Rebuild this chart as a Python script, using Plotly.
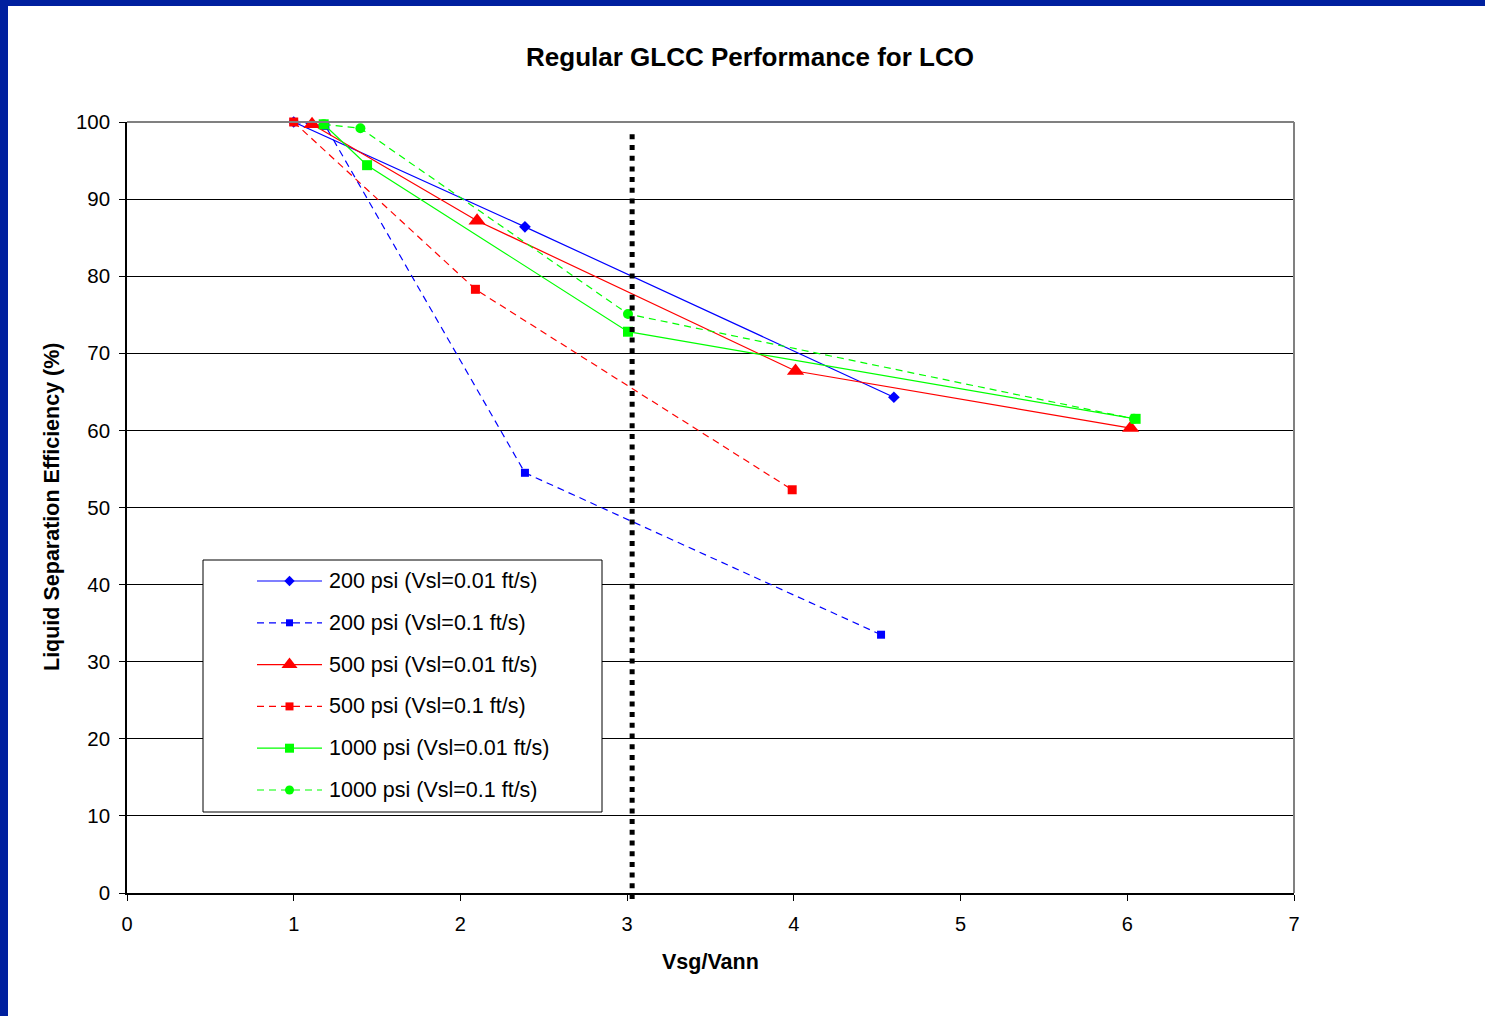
import plotly.graph_objects as go

# Liquid separation efficiency vs. Vsg/Vann for each pressure / liquid velocity case
x_200_lo = [1.0, 2.387, 4.60]
y_200_lo = [100.0, 86.4, 64.3]

x_200_hi = [1.0, 1.19, 2.387, 4.523]
y_200_hi = [100.0, 99.5, 54.5, 33.5]

x_500_lo = [1.11, 2.10, 4.01, 6.02]
y_500_lo = [99.7, 87.2, 67.7, 60.3]

x_500_hi = [1.0, 2.09, 3.99]
y_500_hi = [100.0, 78.3, 52.3]

x_1000_lo = [1.18, 1.44, 3.005, 6.05]
y_1000_lo = [99.7, 94.4, 72.8, 61.5]

x_1000_hi = [1.18, 1.40, 3.005, 6.04]
y_1000_hi = [99.7, 99.2, 75.1, 61.5]

series_names = [
    "200 psi (Vsl=0.01 ft/s)",
    "200 psi (Vsl=0.1 ft/s)",
    "500 psi (Vsl=0.01 ft/s)",
    "500 psi (Vsl=0.1 ft/s)",
    "1000 psi (Vsl=0.01 ft/s)",
    "1000 psi (Vsl=0.1 ft/s)",
]

limit_x = 3.03  # vertical reference line on Vsg/Vann

x_ticks = [0, 1, 2, 3, 4, 5, 6, 7]
y_ticks = [0, 10, 20, 30, 40, 50, 60, 70, 80, 90, 100]

FONT = "Arial, Liberation Sans, sans-serif"
W, H = 1485, 1016
L, R, T, B = 127, 191, 122, 123
pw = W - L - R
ph = H - T - B


def px_to_paper(px, py):
    """Page pixel position -> paper coordinates of the plot area."""
    return (px - L) / pw, (H - B - py) / ph


styles = [
    dict(color="#0000FF", dash="solid", symbol="diamond", size=9),
    dict(color="#0000FF", dash="7px,5px", symbol="square", size=8),
    dict(color="#FF0000", dash="solid", symbol="triangle-up", size=15),
    dict(color="#FF0000", dash="7px,5px", symbol="square", size=9),
    dict(color="#00FF00", dash="solid", symbol="square", size=10),
    dict(color="#00FF00", dash="7px,5px", symbol="circle", size=10),
]
data = [
    (x_200_lo, y_200_lo),
    (x_200_hi, y_200_hi),
    (x_500_lo, y_500_lo),
    (x_500_hi, y_500_hi),
    (x_1000_lo, y_1000_lo),
    (x_1000_hi, y_1000_hi),
]

fig = go.Figure()
for (xs, ys), st, name in zip(data, styles, series_names):
    fig.add_trace(go.Scatter(
        x=xs, y=ys, name=name, mode="lines+markers", showlegend=False,
        line=dict(color=st["color"], width=1.2, dash=st["dash"]),
        marker=dict(color=st["color"], symbol=st["symbol"], size=st["size"],
                    line=dict(width=0)),
        cliponaxis=False,
    ))

# Boxed legend drawn on an overlay axis pair measured in page pixels
box_l, box_r, box_t, box_b = 203, 602, 560, 812
row_y0, row_step = 581, 41.8
sample_l, sample_r, text_x = 257, 322, 327

fig.add_trace(go.Scatter(
    x=[box_l, box_r, box_r, box_l, box_l], y=[box_t, box_t, box_b, box_b, box_t],
    xaxis="x2", yaxis="y2", mode="lines", fill="toself", fillcolor="white",
    line=dict(color="black", width=1), hoverinfo="skip", showlegend=False,
))
annotations = []
for i, (st, name) in enumerate(zip(styles, series_names)):
    ry = row_y0 + i * row_step
    fig.add_trace(go.Scatter(
        x=[sample_l, sample_r], y=[ry, ry], xaxis="x2", yaxis="y2", mode="lines",
        line=dict(color=st["color"], width=1.2, dash=st["dash"]),
        hoverinfo="skip", showlegend=False,
    ))
    fig.add_trace(go.Scatter(
        x=[(sample_l + sample_r) / 2], y=[ry], xaxis="x2", yaxis="y2", mode="markers",
        marker=dict(color=st["color"], symbol=st["symbol"], size=st["size"] - 1,
                    line=dict(width=0)),
        hoverinfo="skip", showlegend=False,
    ))
    annotations.append(dict(
        x=text_x, y=ry, xref="x2", yref="y2", text=name, showarrow=False,
        xanchor="left", yanchor="middle",
        font=dict(size=21.5, family=FONT, color="black"),
    ))

# Axis titles
xt_x, xt_y = px_to_paper(710, 962)
annotations.append(dict(
    x=xt_x, y=xt_y, xref="paper", yref="paper", text="<b>Vsg/Vann</b>",
    showarrow=False, xanchor="center", yanchor="middle",
    font=dict(size=21.5, family=FONT, color="black"),
))
yt_x, yt_y = px_to_paper(52, 507)
annotations.append(dict(
    x=yt_x, y=yt_y, xref="paper", yref="paper",
    text="<b>Liquid Separation Efficiency (%)</b>",
    showarrow=False, xanchor="center", yanchor="middle", textangle=-90,
    font=dict(size=21.5, family=FONT, color="black"),
))

shapes = [
    # plot frame, top and right edges
    dict(type="line", xref="paper", yref="paper", x0=0, x1=1, y0=1, y1=1,
         line=dict(color="#808080", width=2)),
    dict(type="line", xref="paper", yref="paper", x0=1, x1=1, y0=0, y1=1,
         line=dict(color="#808080", width=2)),
    # vertical dotted reference line
    dict(type="line", xref="x", yref="paper", x0=limit_x, x1=limit_x,
         y0=-6 / ph, y1=1 - 8 / ph,
         line=dict(color="black", width=5, dash="5px,5.7px")),
    # page border strips
    dict(type="rect", xref="paper", yref="paper",
         x0=-L / pw, x1=(8 - L) / pw, y0=-B / ph, y1=1 + T / ph,
         fillcolor="#00209F", line=dict(width=0), layer="above"),
    dict(type="rect", xref="paper", yref="paper",
         x0=-L / pw, x1=1 + R / pw, y0=1 + (T - 6) / ph, y1=1 + T / ph,
         fillcolor="#00209F", line=dict(width=0), layer="above"),
]

fig.update_layout(
    width=W, height=H,
    margin=dict(l=L, r=R, t=T, b=B, pad=0),
    paper_bgcolor="white", plot_bgcolor="white",
    font=dict(family=FONT, color="black", size=20),
    title=dict(text="<b>Regular GLCC Performance for LCO</b>",
               x=750 / W, xanchor="center", xref="container",
               y=1 - 57 / H, yanchor="middle", yref="container",
               font=dict(size=26, family=FONT, color="black")),
    xaxis=dict(range=[0, 7], tickvals=x_ticks, ticktext=[str(v) for v in x_ticks],
               showgrid=False, zeroline=False, showline=True,
               linecolor="black", linewidth=1.5,
               ticks="outside", ticklen=6, tickcolor="black", tickwidth=1,
               ticklabelstandoff=6,
               tickfont=dict(size=20), fixedrange=True),
    yaxis=dict(range=[0, 100], tickvals=y_ticks, ticktext=[str(v) for v in y_ticks],
               showgrid=True, gridcolor="black", gridwidth=1,
               zeroline=False, showline=True, linecolor="black", linewidth=1.5,
               ticks="outside", ticklen=6, tickcolor="black", tickwidth=1,
               ticklabelstandoff=5,
               tickfont=dict(size=20.5), fixedrange=True),
    xaxis2=dict(range=[L, W - R], overlaying="x", visible=False, fixedrange=True),
    yaxis2=dict(range=[H - B, T], overlaying="y", visible=False, fixedrange=True),
    annotations=annotations,
    shapes=shapes,
    showlegend=False,
)

fig.write_html("out.html")
